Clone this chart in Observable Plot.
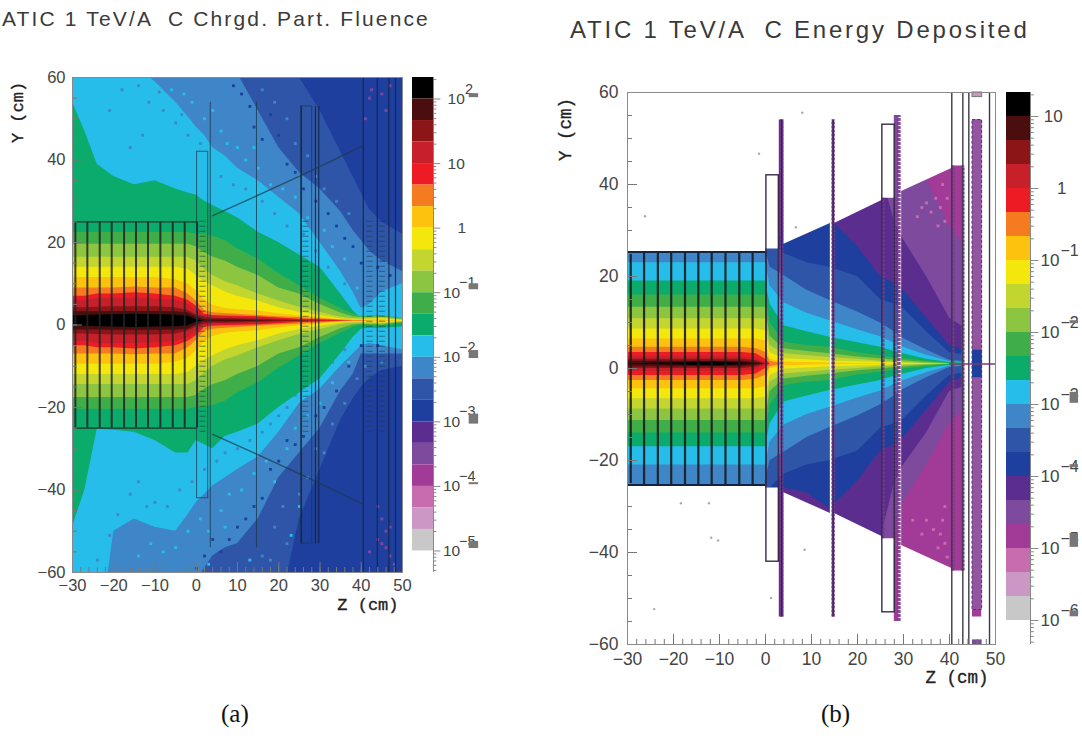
<!DOCTYPE html>
<html><head><meta charset="utf-8">
<script src="https://cdn.jsdelivr.net/npm/d3@7"></script>
<script src="https://cdn.jsdelivr.net/npm/@observablehq/plot@0.6"></script>
<style>
html,body{margin:0;padding:0;background:#fff;width:1082px;height:740px;overflow:hidden}
.p{position:absolute;top:0}
.t{position:absolute;white-space:pre;color:#3a3a3a;font-family:"Liberation Sans"}
.c{position:absolute;font-family:"Liberation Serif";font-size:25px;color:#111}
svg{background:transparent!important;overflow:visible}
</style></head><body>
<script>
// ---- colour ramp, top of the colour bar first ----
const ramp=["#000000","#4a0e0e","#8c1518","#c8202a","#ed1c24","#f47b20","#fcc20e","#f4e70c","#c3d52f","#8cc53f","#3fae49","#0bab6c","#27bdea","#3f86c8","#2e55a8","#1f3f9e","#5a2d8f","#7d4a9e","#a13b97","#c86cb0","#cb98c6","#c8c8c8"];
const decadesA=[2,1,0,-1,-2,-3,-4,-5];
const decadesB=[1,0,-1,-2,-3,-4,-5,-6];
const smudgeA=[[2.06,4],[-0.9,6],[-1.95,8],[-2.95,10],[-3.95,2],[-4.9,7]];
const smudgeB=[[-1.85,3],[-2.9,11],[-3.85,3],[-4.88,14],[-5.9,6]];

// ---- (a) fluence: contour limits (cm) read per Z station ----
const zA=[-30,-27,-24,-20,-15,-10,-5,-2,0,2,4,7,10,15,20,25,30,35,38,40,42,45,50];
const blueUpA =[80,80,80,80,80,80,80,80,80,80,80,80,80,80,75,60,52,42,36,32,28,25,22];
const steelUpA=[80,80,80,80,80,80,80,80,80,80,75,68,61,52,43,37,33,27.5,23,20.5,18,15.5,13];
const skyUpA  =[80,80,80,80,63,59,54,50.5,48,46,43,41,38,35,31,27,20,13,8,4,5,8,10];
const tealUpA =[54,47,39,36,34,35,33,32,31.5,30,29,27.5,26,22.5,20,17,14,7.5,3.5,1.5,1.5,1.5,1];
const blueLowA =[-80,-80,-80,-80,-80,-80,-80,-80,-80,-80,-80,-80,-80,-80,-70,-47,-35,-23,-18,-15,-13,-11,-10];
const steelLowA=[-80,-80,-80,-80,-80,-80,-80,-80,-62,-59,-56,-54,-53,-47,-37,-31,-25,-16,-12,-7,-7,-7,-7];
const skyLowA  =[-80,-80,-80,-50,-47,-49,-50,-46,-43,-41,-39,-37,-35,-32,-26,-19,-15.5,-10,-7,-5,-4.5,-5,-6];
const tealLowA =[-49,-40,-25.3,-25.5,-26,-28,-31,-31,-28,-29,-30,-27,-26,-24,-20,-16.5,-13,-7,-3,-1,-.8,-.8,-.5];
const coreA=[ // half widths about the beam: green ... black
 [21.4,21.4,21.4,21.4,21.4,21.4,21.4,21.4,21,21,20.5,19.5,17.5,15,11.5,8.5,5.5,3,1.6,1,1.2,1.3,.6],
 [18.6,18.6,18.6,18.6,18.6,18.6,18.6,18.6,18,16.5,15.5,14.5,13,11,8,6.5,4,1.9,1,.8,.9,1,.4],
 [15.4,15.4,15.4,15.4,15.4,15.4,15.4,15.4,14.5,12.5,11,9.5,8.5,6.5,4.8,3.3,2.1,.9,.6,.5,.6,.7,.2],
 [13,13,13,13,13,13,13,12.5,11,9.5,8.5,7,6,4.8,3.2,2.1,1.3,.5,.3,.3,.4,.5,.1],
 [10.5,10.5,10.5,10.5,10.5,10.5,10,9,7.3,5,3.8,3,2.7,2.4,1.7,1.2,.8,.3,.2,.2,.2,.3,0],
 [8,8,8,8,8.2,8,8,6.5,4.8,2.5,2,1.8,1.6,1.3,1,.8,.5,.2,.1,.1,0,0,0],
 [6,6,6.5,6.5,6.8,6.5,6,5,3.6,1.6,1.3,1.2,1.1,1,.7,.4,.3,.1,0,0,0,0,0],
 [5,5,5.5,5.5,5.5,5.3,5,4,2.5,1.2,1,1,.9,.8,.4,.2,.1,0,0,0,0,0,0],
 [3.2,3.2,3.3,3.4,3.4,3.4,3.2,2.5,1.5,.8,.6,.6,.5,.4,.2,.1,0,0,0,0,0,0,0],
 [2.2,2.2,2.2,2.3,2.3,2.3,2.2,2,1,.3,.2,.2,.2,.1,0,0,0,0,0,0,0,0,0],
 [1.2,1.3,1.4,1.5,1.6,1.5,1.4,1.2,.3,0,0,0,0,0,0,0,0,0,0,0,0,0,0]];
const coreRampA=[10,9,8,7,6,5,4,3,2,1,0];
// stray cells near the contours of (a): [z, y]
const steelCellsA=[[-14,58],[-11.5,54],[-8,52],[-9,56.5],[-5,49],[-3.5,51],[-2,46],[1,44],[-16,43],[-13,46],[-18,57],[-21,52],[-24,-57],[-21,-51],[-19,-46],[-16,-41],[-14,-38],[-12,-44],[-17,-53],[-10,-43],[-7,-44],[-4,-40],[-1,-38],[2,-35],[5,-33],[7,-31],[10,-30],[13,-28],[16,-26],[18,-24],[20,-22],[22,-20],[24,-17],[27,-14],[30,-12],[33,-9],[36,-6],[6,36],[9,34],[12,33],[16,30],[19,27],[22,24],[26,22],[29,18],[32,14],[36,10]];
const skyCellsA=[[-6,57],[-3,56],[-1,54],[2,50],[4,52],[6,47],[7.5,44],[10,43],[12,40],[15,38],[14,43],[18,34],[21,33],[24,31],[27,26],[31,23],[33,19],[36,16],[39,9],[-11,-53],[-8,-55],[-5,-54],[-2,-50],[1,-47],[3,-50],[6,-45],[8,-41],[11,-40],[14,-36],[17,-33],[19,-38],[22,-30],[24,-25],[27,-22],[30,-19],[33,-14],[37,-9],[3,-58],[7,-49],[13,-57],[-14,-56],[25,-44],[23,-51]];
const blueCellsA=[[9,58],[11,56],[13,53],[14,48],[16,45],[18,51],[20,46],[22,39],[24,37],[26,33],[29,30],[32,27],[34,24],[36,21],[38,19],[40,15],[44,14],[47,12],[0,-59],[2,-56],[4,-52],[6,-55],[8,-52],[10,-49],[12,-47],[14,-44],[16,-42],[18,-35],[20,-33],[22,-28],[24,-29],[26,-27],[29,-22],[31,-20],[34,-16],[37,-10],[40,-5],[44,-5]];
const steelOnBlueA=[[16,57],[19,54],[22,50],[24,44],[27,41],[29,36],[31,33],[34,30],[37,27],[39,21],[42,17],[46,15],[16,-56],[19,-49],[21,-44],[18,-57],[22,-53],[25,-41],[27,-37],[29,-30],[31,-31],[33,-24],[36,-19],[39,-13],[41,-10],[45,-9]];
const purpleCellsA=[[41,50],[42,55],[45,56],[46,52],[47,58],[42.5,57],[44,-44],[45,-47],[46,-50],[44,-52],[46,-54],[47,-56],[48,-58],[42,-55],[45,-53],[47,-49]];

// ---- (b) energy deposited ----
const zB=[-30,-25,-20,-15,-10,-5,-2,0,1,4,9,14,20,25,28,30,35,40,43,50];
const mauveUpB =[80,80,80,80,80,80,80,80,80,80,80,80,80,80,60,50,40,30,26,20];
const mauveLowB=[80,80,80,80,80,80,80,80,80,80,80,80,80,50,36,30,22,13,10,8];
const purpleUpB =[80,80,80,80,80,80,80,80,80,80,80,80,70,42,31,27,19,10,8,6];
const purpleLowB=[80,80,80,80,80,80,80,80,80,80,80,80,80,38,26,22,15,6,5,4];
const haloB=[ // half widths: dark blue, blue, steel, sky, teal, green ... black
 [80,80,80,80,80,80,80,80,30,27,28,31.5,25.5,19,17.5,16,10,4,3,2],
 [80,80,80,80,80,80,80,80,27,24,22,21,19,14,13,12,7,2.5,2,1],
 [80,80,80,80,80,80,80,25,21,19.2,16,13.8,11.3,8.9,7,5.5,3,.8,.5,.3],
 [22,22,22,22,22,22,22,22,17,13.3,11,9.4,7.4,5.9,4.5,3.6,1.9,.5,.3,.2],
 [18,18,18,18,18,18,18,18,13,8.3,7,5.8,4.6,3.6,2.7,2.2,1,.3,.2,.1],
 [15,15,15,15,15,15,15,15,9,4.7,4,3.6,2.4,1.8,1.3,1.1,.6,.15,.1,0],
 [12.3,12.3,12.3,12.3,12.3,12.3,12.3,12.3,6,3.3,2.7,2.2,1.5,1.1,.8,.7,.3,.1,0,0],
 [9.8,9.8,9.8,9.8,9.8,9.8,9.8,9.8,4,2.2,1.8,1.4,1,.6,.4,.3,.1,0,0,0],
 [7.6,7.6,7.6,7.6,7.6,7.6,7.6,7.2,2.5,1.1,.9,.6,.45,.3,.2,.15,.05,0,0,0],
 [5.4,5.4,5.4,5.4,5.4,5.4,5.4,5,1,.4,.3,.2,.1,.05,0,0,0,0,0,0],
 [3.6,3.6,3.6,3.6,3.6,3.6,3.3,2.5,.6,0,0,0,0,0,0,0,0,0,0,0],
 [2.5,2.5,2.5,2.5,2.5,2.5,2.2,1,0,0,0,0,0,0,0,0,0,0,0,0],
 [1.6,1.6,1.6,1.6,1.6,1.6,1.2,.3,0,0,0,0,0,0,0,0,0,0,0,0],
 [1,1,1,1,1,1,.7,0,0,0,0,0,0,0,0,0,0,0,0,0],
 [.6,.6,.6,.6,.6,.6,.3,0,0,0,0,0,0,0,0,0,0,0,0,0],
 [0,.15,.2,.35,.4,.2,0,0,0,0,0,0,0,0,0,0,0,0,0,0]];
const haloRampB=[15,14,13,12,11,10,9,8,7,6,5,4,3,2,1,0];
// where panel (b) has material at all (|Y| limit at Z), white elsewhere
const solidZ=[-30,0,0,3,3,4,4,14.1,14.1,14.6,14.6,15,15,25.3,25.3,28,28,29,29,29.6,29.6,40.5,40.5,43,43,45,45,47,47,50];
const solidY=[25.3,25.3,26,26,54,54,27,31.5,0,0,54,54,31.5,36.5,37,37,55,55,0,0,38.5,43.5,44,44,0,0,54,54,0,0];
const specksZ=[8,-1.4,-26.2,6.6,-18.4,-12.3,-11.8,-10.3,8.5,1.2,-24.2];
const specksY=[55.6,46.7,33.1,30.7,-29.3,-29.3,-36.8,-37.4,-39.4,-49.9,-52.3];
const pinkCellsB=[[36,34],[37,37],[38,35],[38.5,40],[39,32],[37.5,31],[39.5,37],[35,36],[34,35],[33,33],[39,-38],[38,-36],[37.5,-39],[39.5,-41],[36.5,-35],[38.5,-33],[35,-33],[39,-30],[32,-33],[34,-36]];

// ---- detector geometry ----
const caloEdges=[-29.3,-26.4,-23.4,-20.5,-17.5,-14.6,-11.7,-8.7,-5.7,-2.8,.2];
const boxZ=[[.2,2.9,42],[25.4,28.1,53]];
const lineZ=[3.4,14.6];
const coneZ=[4,14,26,40.5];
const coneY=[26.5,31,36.5,43.5];
const stackA=[25.5,28.9,29.7,40.5,43.9,46.7,48.3];
const stackHA=[53,53,53,62,62,62,62];
const ladderA=[1.5,26.5,42,45];
const stackB=[40.5,42.9,44.2,48.7];
const dottedB=[3.5,14.7,25.5,28.1,29,40.7,42.9];
const dottedHB=[54,54,37,37,55,44,44];
const columnB=[45,47.1];

const xMajor=[-30,-20,-10,0,10,20,30,40,50];
const yMajor=[-60,-40,-20,0,20,40,60];
const beam=1;
const rows=(xs,a,b)=>xs.map((x,i)=>({x,a:a[i],b:b[i]}));
const band=(xs,up,low,col)=>Plot.areaY(rows(xs,up,low),{x:"x",y1:"b",y2:"a",fill:col,clip:true});
const core=(xs,h,col)=>band(xs,h.map(v=>beam+v),h.map(v=>beam-v),col);
const cells=(list,col)=>Plot.dot(list,{x:"0",y:"1",symbol:"square",r:1.6,fill:col,clip:true});
const sans="Liberation Sans";
const axes=(xp,yp,fs)=>[
  Plot.axisX({ticks:d3.range(-30,51,2),tickSize:-5,tickFormat:()=>"",stroke:"#777",label:null}),
  Plot.axisX({ticks:xMajor,tickSize:-10,tickPadding:xp,fontSize:fs,fontFamily:sans,color:"#444",stroke:"#777",label:null}),
  Plot.axisY({ticks:d3.range(-60,61,5),tickSize:-5,tickFormat:()=>"",stroke:"#777",label:null}),
  Plot.axisY({ticks:yMajor,tickSize:-10,tickPadding:yp,fontSize:fs,fontFamily:sans,color:"#444",stroke:"#777",label:null}),
  Plot.frame({stroke:"#8a8a8a"})];
const titleMarks=(zdx,zdy,ydx,ydy,fs)=>[
  Plot.text(["Z (cm)"],{frameAnchor:"bottom-right",dy:zdy,dx:zdx,textAnchor:"end",lineAnchor:"middle",fontFamily:"Liberation Mono",fontSize:fs,fill:"#222",stroke:"#222",strokeWidth:.35}),
  Plot.text(["Y (cm)"],{frameAnchor:"top-left",dx:ydx,dy:ydy,rotate:-90,textAnchor:"middle",lineAnchor:"middle",fontFamily:"Liberation Mono",fontSize:fs,fill:"#222",stroke:"#222",strokeWidth:.35})];

// ---- panel (a) ----
const panelA=Plot.plot({width:410,height:640,marginLeft:72,marginRight:8,marginTop:77,marginBottom:68,
 x:{domain:[-30,50],axis:null},y:{domain:[-60,60],axis:null},
 marks:[
  Plot.rectY([0],{x1:-30,x2:50,y1:-60,y2:60,fill:ramp[15]}),
  band(zA,blueUpA,blueLowA,ramp[14]),
  band(zA,steelUpA,steelLowA,ramp[13]),
  band(zA,skyUpA,skyLowA,ramp[12]),
  cells(steelOnBlueA,ramp[13]),
  cells(blueCellsA,ramp[15]),
  cells(steelCellsA,ramp[13]),
  cells(skyCellsA,ramp[12]),
  cells(purpleCellsA,ramp[17]),
  band(zA,tealUpA,tealLowA,ramp[11]),
  ...coreA.map((h,i)=>core(zA,h,ramp[coreRampA[i]])),
  // calorimeter
  Plot.ruleX(caloEdges,{y1:-25,y2:25,stroke:"#222",strokeWidth:2,strokeOpacity:.85}),
  Plot.ruleY([-25,25],{x1:caloEdges[0],x2:caloEdges[10],stroke:"#222",strokeWidth:1.4,strokeOpacity:.85}),
  ...boxZ.map(b=>Plot.rect([b],{x1:d=>d[0],x2:d=>d[1],y1:d=>-d[2],y2:d=>d[2],stroke:"#1d3a4a",strokeOpacity:.75,fill:"none"})),
  Plot.ruleX(ladderA,{y1:-26,y2:26,stroke:"#1d3a4a",strokeOpacity:.6,strokeWidth:6,strokeDasharray:"1 4"}),
  Plot.ruleX(lineZ,{y1:-54,y2:54,stroke:"#1d3a4a",strokeOpacity:.8}),
  Plot.ruleX(stackA,{y1:(d,i)=>-stackHA[i],y2:(d,i)=>stackHA[i],stroke:"#13233f",strokeWidth:1.2,strokeOpacity:.85,clip:true}),
  Plot.lineY(rows(coneZ,coneY,coneY),{x:"x",y:"a",stroke:"#1d3a4a",strokeOpacity:.7}),
  Plot.lineY(rows(coneZ,coneY.map(v=>-v),coneY),{x:"x",y:"a",stroke:"#1d3a4a",strokeOpacity:.7}),
  ...axes(17,17,16.5),
  ...titleMarks(-4,32,-55,35,17)
 ]});
panelA.setAttribute("class","p");panelA.style.left="0px";document.body.append(panelA);

// ---- panel (b) ----
const panelB=Plot.plot({width:500,height:700,marginLeft:127,marginRight:5,marginTop:92,marginBottom:56,
 x:{domain:[-30,50],axis:null},y:{domain:[-60,60],axis:null},
 marks:[
  Plot.rectY([0],{x1:-30,x2:50,y1:-60,y2:60,fill:ramp[18]}),
  band(zB,mauveUpB.map(v=>beam+v),mauveLowB.map(v=>beam-v),ramp[17]),
  band(zB,purpleUpB.map(v=>beam+v),purpleLowB.map(v=>beam-v),ramp[16]),
  cells(pinkCellsB,ramp[19]),
  ...haloB.map((h,i)=>core(zB,h,ramp[haloRampB[i]])),
  Plot.areaY(rows(solidZ,solidY,solidY),{x:"x",y1:"a",y2:61,fill:"white",clip:true}),
  Plot.areaY(rows(solidZ,solidY,solidY),{x:"x",y1:d=>-d.a,y2:-61,fill:"white",clip:true}),
  Plot.dot(specksZ.map((z,i)=>[z,specksY[i]]),{x:"0",y:"1",r:1.2,fill:"#aaa"}),
  Plot.rect([columnB],{x1:"0",x2:"1",y1:-52.5,y2:54,fill:"#93559f",strokeDasharray:"3 2",stroke:"#5a2d6f"}),
  Plot.rect([columnB],{x1:"0",x2:"1",y1:-2,y2:4,fill:ramp[15]}),
  Plot.ruleX(dottedB,{y1:(d,i)=>-dottedHB[i],y2:(d,i)=>dottedHB[i],stroke:"#7a3d8c",strokeWidth:3.6,strokeDasharray:"3 1",strokeOpacity:.9}),
  Plot.ruleX(caloEdges.slice(0,10),{y1:-25.3,y2:25.3,stroke:"#1a1a1a",strokeWidth:2.2,strokeOpacity:.9}),
  Plot.ruleX([.1],{y1:-25.3,y2:25.3,stroke:"#1a1a2a",strokeWidth:1.4}),
  Plot.ruleY([-25.3,25.3],{x1:-30,x2:.1,stroke:"#14233f",strokeWidth:2}),
  ...boxZ.map(b=>Plot.rect([b],{x1:d=>d[0],x2:d=>d[1],y1:d=>-d[2],y2:d=>d[2],stroke:"#3a2a4a",strokeWidth:1.4,fill:"none"})),
  Plot.ruleX(stackB,{y1:-60,y2:60,stroke:"#3a3a48",strokeWidth:1.4}),
  Plot.ruleX(dottedB.slice(0,2),{y1:-54,y2:54,stroke:"#2a1a3a",strokeWidth:1.2,strokeOpacity:.8}),
  Plot.ruleY([beam],{x1:40,x2:50,stroke:"#7a3d6c",strokeWidth:1.5}),
  Plot.rect([columnB],{x1:"0",x2:"1",y1:-60,y2:-59,fill:ramp[17]}),
  Plot.rect([columnB],{x1:"0",x2:"1",y1:59,y2:60,fill:ramp[20],stroke:"#777"}),
  ...axes(18,19,17.5),
  ...titleMarks(-7,33,-62,37,17.5)
 ]});
panelB.setAttribute("class","p");panelB.style.left="500px";document.body.append(panelB);

// ---- colour bars ----
function colorBar(left,mL,unit,h,mT,mB,top,decades,fs,pos,smudges){
 const span=3.2, w=Math.ceil(mL+unit*span);
 const bottom=top-22/3;
 const edge=i=>10**(top-i/3);
 const minors=d3.range(Math.floor(bottom-1),Math.ceil(top)+1).flatMap(e=>d3.range(2,10).map(m=>m*10**e)).filter(v=>v>10**(bottom-1/3)&&v<10**top);
 const sup=e=>e===1||e===0?"":String(e).replace("-","\u2212");
 const bar=Plot.plot({width:w,height:h,marginLeft:mL,marginRight:w-mL-unit*span,marginTop:mT,marginBottom:mB,
  x:{domain:[0,span],axis:null},y:{type:"log",domain:[10**(bottom-1/3),10**top],axis:null},
  marks:[
   Plot.rect(ramp,{x1:0,x2:1,y1:(d,i)=>edge(i+1),y2:(d,i)=>edge(i),fill:d=>d}),
   Plot.ruleX([1],{stroke:"#888"}),
   Plot.ruleY(minors,{x1:1,x2:1.16,stroke:"#888"}),
   Plot.ruleY(decades,{y:e=>10**e,x1:1,x2:1.35,stroke:"#888"}),
   Plot.text(decades,{y:e=>10**e,x:e=>e===0?pos.one:e>0?pos.pos:pos.neg,text:e=>e===0?"1":"10",textAnchor:"start",fontFamily:sans,fontSize:fs,fill:"#444"}),
   Plot.text(decades,{y:e=>10**e,x:e=>e>0?pos.supPos:pos.sup,dy:-10,text:sup,textAnchor:"start",fontFamily:sans,fontSize:fs-1,fill:"#444"}),
   Plot.ruleY(smudges,{y:d=>10**d[0],x1:pos.s1,x2:pos.s2,stroke:"#777",strokeWidth:d=>d[1]})
  ]});
 bar.setAttribute("class","p");bar.style.left=left+"px";document.body.append(bar);
}
colorBar(405,7,21,640,77,68,2+1/3,decadesA,15.5,{one:2.14,pos:1.67,neg:1.45,sup:2.22,supPos:2.5,s1:2.7,s2:3.15},smudgeA);
colorBar(990,16,24,700,92,56,1+1/3,decadesB,17,{one:2.1,pos:1.55,neg:1.42,sup:2.25,supPos:2.25,s1:2.65,s2:3},smudgeB);

// ---- titles and captions ----
function label(cls,text,x,y,fs,ls){const d=document.createElement("div");d.className=cls;d.textContent=text;d.style.left=x+"px";d.style.top=y+"px";if(fs){d.style.fontSize=fs+"px";d.style.letterSpacing=ls+"px";}document.body.append(d);}
label("t","ATIC 1 TeV/A  C Chrgd. Part. Fluence",2,7,21,2.15);
label("t","ATIC 1 TeV/A  C Energy Deposited",570,16,24,2.8);
label("c","(a)",221,700);
label("c","(b)",821,700);
</script>
</body></html>
